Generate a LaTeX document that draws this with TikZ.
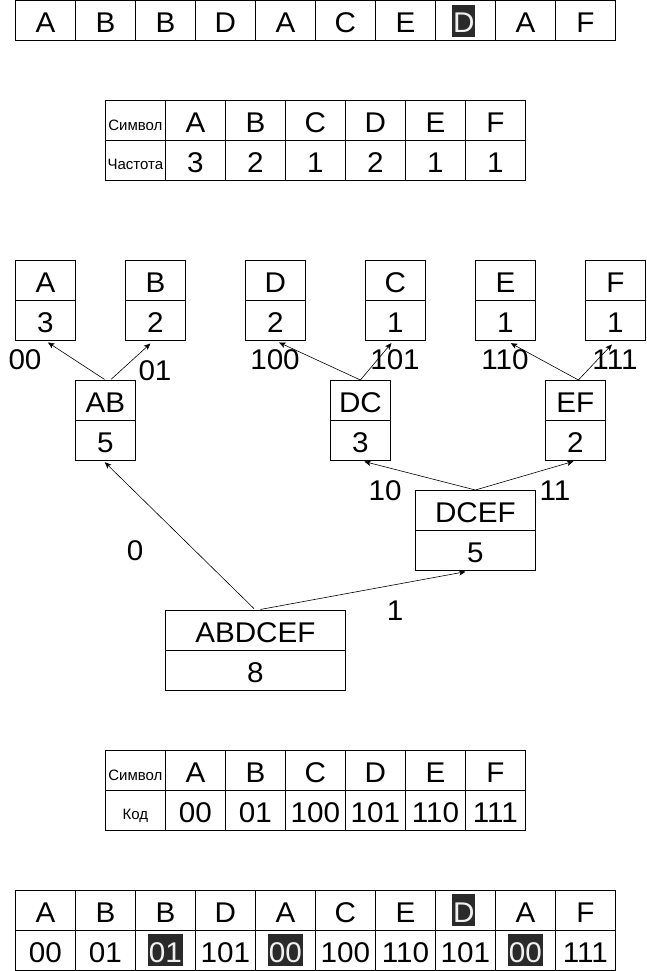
\documentclass[tikz,border=0pt]{standalone}
\usepackage{fontspec}
\setmainfont{Liberation Sans}
\newfontfamily\widefam[FakeStretch=1.04]{Liberation Sans}
\usetikzlibrary{arrows.meta}
\newcommand\bigtxt{\widefam\fontsize{28.5}{33}\selectfont}
\newcommand\smalltxt{\fontsize{15}{18}\selectfont}
\definecolor{hlbg}{HTML}{2A2A2A}
\definecolor{hlfg}{HTML}{F0F0F0}
\tikzset{
  cell/.style={draw, line width=0.8pt, minimum width=60pt, minimum height=40pt, inner sep=0pt, anchor=north west, font=\bigtxt, text height=23.8pt, text depth=0pt},
  wcell/.style={cell, minimum width=#1},
  hdr/.style={draw, line width=0.8pt, minimum width=60pt, minimum height=40pt, inner sep=0pt, anchor=north west},
  hl/.style={fill=hlbg, text=hlfg, font=\bigtxt, inner xsep=0.8pt, inner ysep=4.1pt, text height=23.8pt, text depth=0pt},
  lbl/.style={font=\bigtxt, inner sep=0pt},
  small/.style={font=\smalltxt, inner sep=0pt},
  arr/.style={line width=0.6pt, -{Stealth[length=6.5pt,width=5.5pt,inset=1.5pt]}},
}
\begin{document}
\begin{tikzpicture}[x=1pt,y=-1pt]
\useasboundingbox (0,0) rectangle (646,971);
% top row
\foreach \t [count=\i] in {A,B,B,D,A,C,E,,A,F}{
  \node[cell] (t\i) at ({15+60*(\i-1)},0.5) {\t};
}
\node[hl] (t8h) at ([xshift=-1.5pt]t8.center) {D};
% frequency table
\node[hdr] (fh1) at (105,100) {};
\node[small] (fh1t) at ([yshift=-5pt]fh1.center) {Символ};
\node[hdr] (fh2) at (105,140) {};
\node[small] (fh2t) at ([yshift=-4pt]fh2.center) {Частота};
\foreach \s/\f [count=\i] in {A/3,B/2,C/1,D/2,E/1,F/1}{
  \node[cell] (fs\i) at ({165+60*(\i-1)},100) {\s};
  \node[cell] (ff\i) at ({165+60*(\i-1)},140) {\f};
}
% tree leaves
\foreach \n/\x/\v in {A/15/3,B/125/2,D/245/2,C/365/1,E/475/1,F/585/1}{
  \node[cell] (\n t) at (\x,260) {\n};
  \node[cell] (\n b) at (\x,300) {\v};
}
% internal nodes
\node[cell] (ABt) at (75,380) {AB};
\node[cell] (ABb) at (75,420) {5};
\node[cell] (DCt) at (330,380) {DC};
\node[cell] (DCb) at (330,420) {3};
\node[cell] (EFt) at (545,380) {EF};
\node[cell] (EFb) at (545,420) {2};
\node[wcell=120pt] (DCEFt) at (415,490) {DCEF};
\node[wcell=120pt] (DCEFb) at (415,530) {5};
\node[wcell=180pt] (ABDt) at (165,610) {ABDCEF};
\node[wcell=180pt] (ABDb) at (165,650) {8};
% connectors
\draw[arr, shorten >=3pt, shorten <=1pt] (ABt.north) -- (Ab.south);
\draw[arr, shorten >=4pt, shorten <=1pt] ([xshift=5pt]ABt.north) -- ([xshift=-2pt]Bb.south);
\draw[arr, shorten >=4pt] (DCt.north) -- (Db.south);
\draw[arr, shorten >=3pt] (DCt.north) -- ([xshift=-2pt]Cb.south);
\draw[arr, shorten >=5pt] ([xshift=3pt]EFt.north) -- ([xshift=1pt]Eb.south);
\draw[arr, shorten >=5pt] ([xshift=3pt]EFt.north) -- (Fb.south);
\draw[arr, shorten >=3pt] (DCEFt.north) -- ([xshift=1pt]DCb.south);
\draw[arr, shorten >=2pt] (DCEFt.north) -- (EFb.south);
\draw[arr, shorten >=2pt, shorten <=2pt] (ABDt.north) -- ([xshift=-2pt]ABb.south);
\draw[arr, shorten >=5pt, shorten <=3pt] ([xshift=2pt]ABDt.north) -- ([xshift=-5pt]DCEFb.south);
% edge labels
\node[lbl] (l00) at (25,360) {00};
\node[lbl] (l01) at (155,371) {01};
\node[lbl] (l100) at (275,360) {100};
\node[lbl] (l101) at (395,360) {101};
\node[lbl] (l110) at (505,360) {110};
\node[lbl] (l111) at (615,360) {111};
\node[lbl] (l10) at (385,491) {10};
\node[lbl] (l11) at (555,491) {11};
\node[lbl] (l0) at (135,551) {0};
\node[lbl] (l1) at (395,611) {1};
% code table
\node[hdr] (ch1) at (105,750) {};
\node[small] (ch1t) at ([yshift=-5pt]ch1.center) {Символ};
\node[hdr] (ch2) at (105,790) {};
\node[small] (ch2t) at ([yshift=-5pt]ch2.center) {Код};
\foreach \s/\c [count=\i] in {A/00,B/01,C/100,D/101,E/110,F/111}{
  \node[cell] (cs\i) at ({165+60*(\i-1)},750) {\s};
  \node[cell] (cc\i) at ({165+60*(\i-1)},790) {\c};
}
% bottom rows
\foreach \t/\c [count=\i] in {A/00,B/01,B/,D/101,A/,C/100,E/110,/101,A/,F/111}{
  \node[cell] (b\i) at ({15+60*(\i-1)},890) {\t};
  \node[cell] (e\i) at ({15+60*(\i-1)},930) {\c};
}
\node[hl] (b8h) at ([xshift=-1.5pt]b8.center) {D};
\node[hl] (e3h) at (e3.center) {01};
\node[hl] (e5h) at (e5.center) {00};
\node[hl] (e9h) at (e9.center) {00};
\end{tikzpicture}
\end{document}
